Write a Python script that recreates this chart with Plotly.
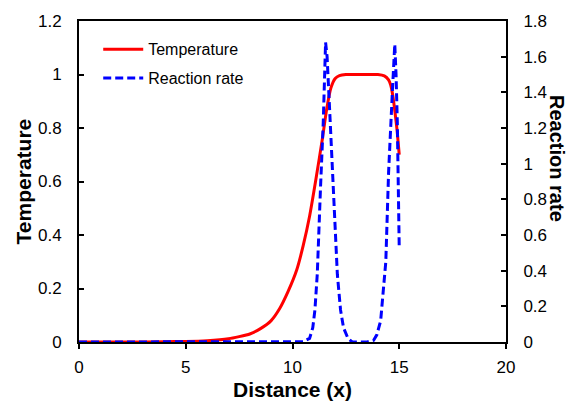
import plotly.graph_objects as go

# Temperature profile
x_temp = [0, 2, 4, 5, 6, 7, 7.5, 8, 8.5, 9, 9.4, 9.8, 10.2, 10.5, 10.8, 11.1, 11.4,
          11.6, 11.8, 12, 12.2, 12.5, 13, 13.5, 14, 14.3, 14.5, 14.6, 14.7, 14.8, 14.9, 15]
temperature = [0, 0, 0.001, 0.002, 0.005, 0.012, 0.02, 0.03, 0.05, 0.08, 0.125, 0.19,
               0.27, 0.36, 0.47, 0.61, 0.76, 0.87, 0.95, 0.985, 0.996, 1, 1, 1, 1, 0.995,
               0.98, 0.96, 0.92, 0.86, 0.79, 0.70]

# Reaction rate profile
x_rate = [0, 5, 10, 10.5, 10.8, 10.95, 11.05, 11.16, 11.31, 11.44, 11.55, 11.62, 11.74,
          11.91, 12.1, 12.25, 12.39, 12.6, 12.8, 13.5, 13.8, 13.95, 14.13, 14.37, 14.5,
          14.68, 14.79, 14.85, 14.91, 15.0]
reaction_rate = [0, 0, 0, 0.002, 0.02, 0.08, 0.18, 0.38, 0.86, 1.23, 1.68, 1.6, 1.30,
                 0.86, 0.38, 0.18, 0.08, 0.02, 0, 0, 0.01, 0.04, 0.12, 0.45, 0.95,
                 1.41, 1.67, 1.5, 1.23, 0.52]

FONT = "Liberation Sans, Arial, sans-serif"

fig = go.Figure()
fig.add_trace(go.Scatter(x=x_temp, y=temperature, mode="lines", name="Temperature",
                         line=dict(color="#ff0000", width=3, shape="spline", smoothing=0.5),
                         legendgroup="a", yaxis="y"))
fig.add_trace(go.Scatter(x=x_rate, y=reaction_rate, mode="lines", name="Reaction rate",
                         line=dict(color="#0000ff", width=3, dash="8px,4px"),
                         legendgroup="b", yaxis="y2"))

axis_common = dict(showline=True, linecolor="black", linewidth=2, showgrid=False,
                   zeroline=False, tickwidth=2, ticklen=5, tickcolor="black",
                   tickfont=dict(size=17))

fig.update_layout(
    width=571, height=403,
    margin=dict(l=79, r=65, t=17, b=61),
    paper_bgcolor="white", plot_bgcolor="white",
    font=dict(family=FONT, color="black", size=17),
    showlegend=True,
    legend=dict(x=0.045, y=0.965, xanchor="left", yanchor="top",
                bgcolor="rgba(0,0,0,0)", font=dict(size=16), itemwidth=40,
                tracegroupgap=5, traceorder="grouped"),
    xaxis=dict(range=[0, 20], dtick=5, ticks="outside", mirror=True,
               ticklabelstandoff=4, **axis_common),
    yaxis=dict(range=[0, 1.2], dtick=0.2, ticks="inside", ticklabelstandoff=12,
               **axis_common),
    yaxis2=dict(range=[0, 1.8], dtick=0.2, ticks="inside", overlaying="y", side="right",
                ticklabelstandoff=12, **axis_common),
    annotations=[
        dict(text="<b>Distance (x)</b>", x=0.5, y=-0.148, xref="paper", yref="paper",
             showarrow=False, font=dict(size=21), xanchor="center", yanchor="middle"),
        dict(text="<b>Temperature</b>", textangle=-90, x=-0.129, y=0.5,
             xref="paper", yref="paper", showarrow=False, font=dict(size=21),
             xanchor="center", yanchor="middle"),
        dict(text="<b>Reaction rate</b>", textangle=90, x=1.121, y=0.571,
             xref="paper", yref="paper", showarrow=False, font=dict(size=20),
             xanchor="center", yanchor="middle"),
    ],
)

fig.write_html("out.html")
